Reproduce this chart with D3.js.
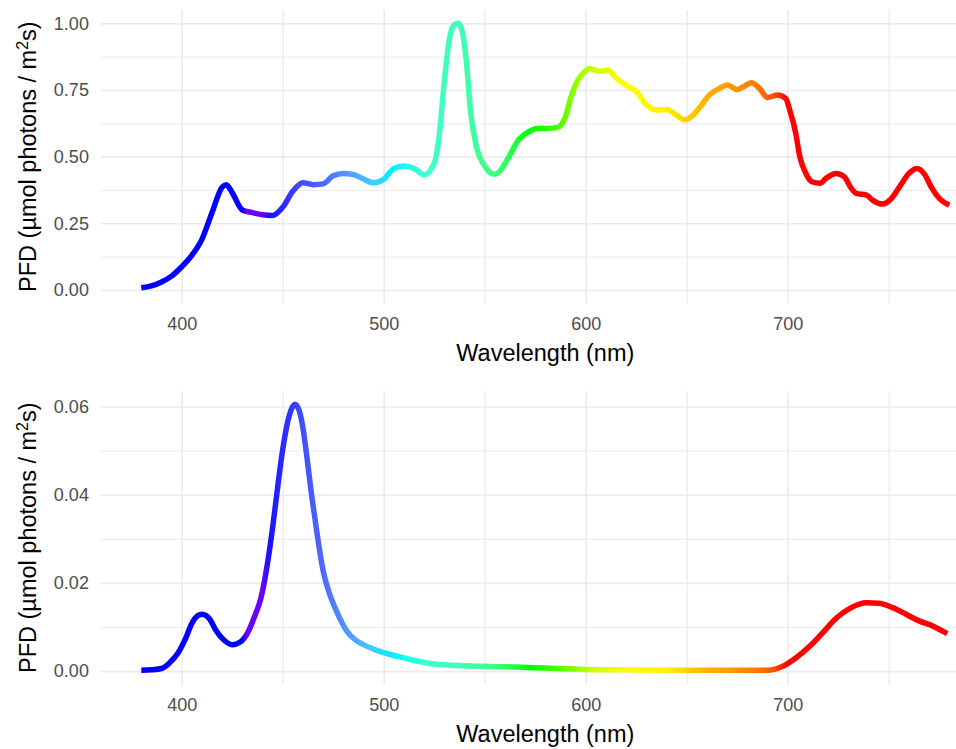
<!DOCTYPE html>
<html>
<head>
<meta charset="utf-8">
<script src="https://cdn.jsdelivr.net/npm/d3@7"></script>
<style>
  body { margin: 0; background: #fff; }
  svg { display: block; font-family: "Liberation Sans", Arial, sans-serif; }
  .tick text { fill: #4d4d4d; font-size: 18px; }
  .grid line { stroke: #ebebeb; }
  .grid .domain { display: none; }
  .axis-title { fill: #000; font-size: 23.5px; }
</style>
</head>
<body>
<div id="chart"></div>
<script>
// Top panel: full-spectrum lamp (normalised PFD)
const topWavelengths = [380, 385, 390, 395, 400, 405, 410, 415, 420, 422, 425, 430, 435, 440, 445, 450, 455, 460, 465, 470,
  475, 480, 485, 490, 495, 500, 505, 510, 515, 520, 525, 527.5, 530, 532.5, 535, 537, 539, 541, 543, 546,
  550, 555, 558, 562, 567, 571, 576, 581, 586, 590, 593, 596, 599, 602, 607, 611, 615, 620, 625, 630,
  635, 640, 645, 649, 653, 657, 661, 666, 670, 675, 678, 682, 686, 690, 695, 699, 701, 704, 706, 709,
  712, 716, 719, 724, 728, 731, 734, 739, 742, 747, 751, 756, 760, 764, 768, 771, 775, 780];
const topPfd = [0.008, 0.015, 0.03, 0.052, 0.087, 0.13, 0.19, 0.29, 0.385, 0.395, 0.365, 0.30, 0.29, 0.282, 0.279, 0.31, 0.37, 0.402, 0.395, 0.398,
  0.428, 0.437, 0.433, 0.416, 0.402, 0.415, 0.455, 0.465, 0.456, 0.432, 0.475, 0.58, 0.78, 0.94, 0.995, 1.0, 0.965, 0.85, 0.67, 0.535,
  0.465, 0.434, 0.45, 0.50, 0.565, 0.59, 0.606, 0.606, 0.61, 0.65, 0.73, 0.785, 0.815, 0.831, 0.82, 0.825, 0.795, 0.768, 0.745, 0.695,
  0.675, 0.677, 0.656, 0.638, 0.655, 0.69, 0.73, 0.755, 0.769, 0.752, 0.762, 0.777, 0.756, 0.722, 0.731, 0.718, 0.675, 0.587, 0.50, 0.437,
  0.406, 0.40, 0.419, 0.437, 0.425, 0.387, 0.362, 0.356, 0.337, 0.322, 0.34, 0.394, 0.437, 0.456, 0.431, 0.387, 0.344, 0.318];

// Bottom panel: blue/far-red LED
const bottomWavelengths = [380, 385, 390, 394, 398, 402, 405, 408, 410, 414, 417, 421, 425, 429, 433, 436, 439, 441, 443, 445,
  447, 449, 451, 453, 455, 456, 458, 460, 462, 464, 466, 468, 470, 473, 476, 479, 482, 486, 490, 495,
  500, 510, 525, 540, 560, 580, 600, 620, 650, 690, 697, 704, 711, 717.5, 724, 731, 739, 745, 752, 759, 765, 772, 779];
const bottomPfd = [0.0002, 0.0003, 0.0006, 0.0019, 0.004, 0.0075, 0.0108, 0.0126, 0.0129, 0.0117, 0.0092, 0.007, 0.006, 0.0066, 0.009, 0.0123, 0.0162, 0.0205, 0.026, 0.0325,
  0.0398, 0.047, 0.053, 0.0575, 0.06, 0.0605, 0.0593, 0.0552, 0.0485, 0.041, 0.0345, 0.0282, 0.0228, 0.0178, 0.0143, 0.0113, 0.0089, 0.0071, 0.006, 0.005,
  0.0042, 0.003, 0.0016, 0.0012, 0.001, 0.0007, 0.0004, 0.0003, 0.0002, 0.0002, 0.001, 0.003, 0.0057, 0.0088, 0.012, 0.0143, 0.0155, 0.0154, 0.0144, 0.0128, 0.0114, 0.0102, 0.0085];

// wavelength -> colour lookup used for the line
const colourWavelengths = [380, 430, 432, 440, 443, 450, 458, 465, 472, 480, 488, 495, 505, 512, 520, 540, 555, 565, 572, 585,
  595, 603, 612, 620, 640, 650, 660, 672, 685, 693, 700, 780];
const colourValues = ["#0000ff", "#0000ff", "#6a00ff", "#6a00ff", "#1a10ff", "#2a2aff", "#4048ff", "#4a5cff", "#5070ff", "#5090ff",
  "#50b0ff", "#40d0ff", "#00f0ff", "#20fff0", "#40ffd0", "#40ffb0", "#40ff80", "#20ff40", "#00ff00", "#40ff00",
  "#90ff00", "#c8ff00", "#e8ff00", "#ffff00", "#fff000", "#ffd000", "#ffb000", "#ff9800", "#ff7800", "#ff5000", "#ff0000", "#ff0000"];

const xTicks = [400, 500, 600, 700];
const xMinorTicks = [450, 550, 650, 750];
const topTicks = [0, 0.25, 0.5, 0.75, 1.0];
const topMinorTicks = [0.125, 0.375, 0.625, 0.875];
const bottomTicks = [0, 0.02, 0.04, 0.06];
const bottomMinorTicks = [0.01, 0.03, 0.05];

const width = 956, height = 749;

const svg = d3.select('#chart').append('svg')
  .attr('width', width)
  .attr('height', height);

// shared x scale (ggplot adds 5% on each side of 380-780)
const x = d3.scaleLinear().domain([360, 800]).range([100.9, 989.7]);

// gradient along x, so every point is coloured by its wavelength
const grad = svg.append('defs').append('linearGradient')
  .attr('id', 'wl-gradient')
  .attr('gradientUnits', 'userSpaceOnUse')
  .attr('x1', x(380)).attr('x2', x(780))
  .attr('y1', 0).attr('y2', 0);

grad.selectAll('stop')
  .data(colourWavelengths)
  .join('stop')
  .attr('offset', d => (d - 380) / 400)
  .attr('stop-color', (d, i) => colourValues[i]);

const panels = [
  { wl: topWavelengths, pfd: topPfd, domain: [-0.05, 1.05], range: [303.3, 10], ticks: topTicks, minor: topMinorTicks, fmt: d3.format('.2f') },
  { wl: bottomWavelengths, pfd: bottomPfd, domain: [-0.003, 0.0635], range: [684.4, 391], ticks: bottomTicks, minor: bottomMinorTicks, fmt: d3.format('.2f') }
];

panels.forEach(p => {
  const y = d3.scaleLinear().domain(p.domain).range(p.range);
  const top = p.range[1], bottom = p.range[0];
  const g = svg.append('g');

  // minor grid
  g.append('g').attr('class', 'grid')
    .attr('transform', `translate(${x.range()[0]},0)`)
    .call(d3.axisLeft(y).tickValues(p.minor).tickSize(-(x.range()[1] - x.range()[0])).tickFormat(''))
    .selectAll('line').attr('stroke-width', 1);
  g.append('g').attr('class', 'grid')
    .attr('transform', `translate(0,${bottom})`)
    .call(d3.axisBottom(x).tickValues(xMinorTicks).tickSize(-(bottom - top)).tickFormat(''))
    .selectAll('line').attr('stroke-width', 1.3);

  // major grid + labels
  const ya = g.append('g').attr('class', 'grid')
    .attr('transform', `translate(${x.range()[0]},0)`)
    .call(d3.axisLeft(y).tickValues(p.ticks).tickSize(-(x.range()[1] - x.range()[0])).tickPadding(12).tickFormat(p.fmt));
  ya.selectAll('line').attr('stroke-width', 1.6);

  const xa = g.append('g').attr('class', 'grid')
    .attr('transform', `translate(0,${bottom})`)
    .call(d3.axisBottom(x).tickValues(xTicks).tickSize(-(bottom - top)).tickPadding(14));
  xa.selectAll('line').attr('stroke-width', 1.6);

  // spectrum line
  const line = d3.line()
    .x((d, i) => x(p.wl[i]))
    .y(d => y(d))
    .curve(d3.curveMonotoneX);

  g.append('path')
    .datum(p.pfd)
    .attr('d', line)
    .attr('fill', 'none')
    .attr('stroke', 'url(#wl-gradient)')
    .attr('stroke-width', 5.5)
    .attr('stroke-linejoin', 'round');

  // axis titles
  g.append('text')
    .attr('class', 'axis-title')
    .attr('x', (x.range()[0] + x.range()[1]) / 2)
    .attr('y', bottom + 58)
    .attr('text-anchor', 'middle')
    .text('Wavelength (nm)');

  const yt = g.append('text')
    .attr('class', 'axis-title')
    .attr('transform', `translate(28,${(top + bottom) / 2}) rotate(-90)`)
    .attr('text-anchor', 'middle')
    .attr('dy', '0.35em');
  yt.append('tspan').text('PFD (µmol photons / m');
  yt.append('tspan').attr('baseline-shift', 'super').attr('font-size', '16px').text('2');
  yt.append('tspan').text('s)');
});
</script>
</body>
</html>
